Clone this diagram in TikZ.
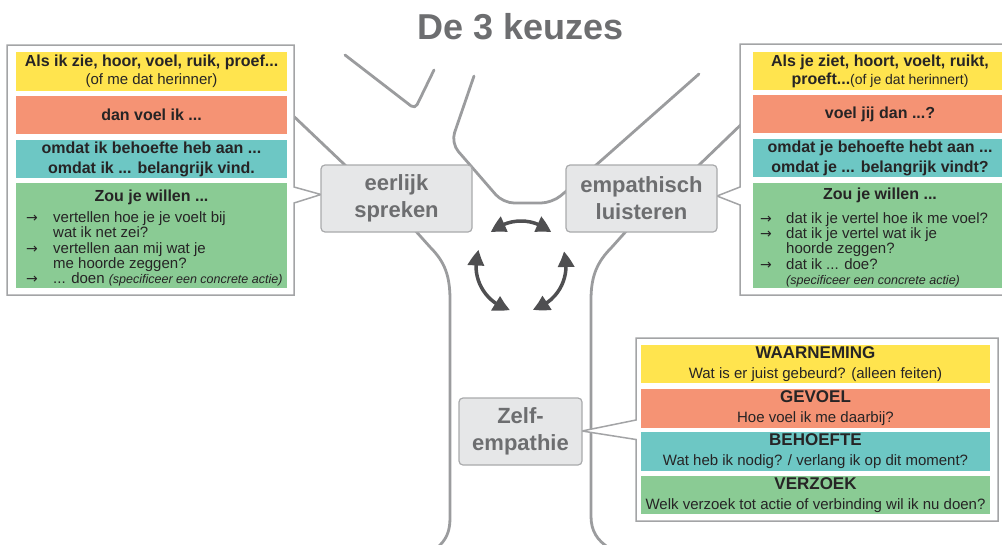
\documentclass[tikz,border=0pt]{standalone}
\usepackage{fontspec}
\setmainfont{Liberation Sans}
\newfontfamily\symfont{DejaVu Sans}
\usetikzlibrary{arrows.meta,bending}
\definecolor{treegray}{HTML}{9B9C9E}
\definecolor{boxline}{HTML}{A3A4A6}
\definecolor{nodefill}{HTML}{E6E7E8}
\definecolor{nodeline}{HTML}{A9AAAC}
\definecolor{nodetext}{HTML}{6D6E70}
\definecolor{arrowgray}{HTML}{4F4F51}
\definecolor{txt}{HTML}{262425}
\definecolor{cyellow}{HTML}{FFE44E}
\definecolor{corange}{HTML}{F59374}
\definecolor{cteal}{HTML}{6DC7C4}
\definecolor{cgreen}{HTML}{8ACB94}
\newcommand\myfs[2]{\fontsize{#1pt}{#2pt}\selectfont}
\newcommand\myarrow{{\symfont\myfs{14}{15}→}}
\begin{document}
\begin{tikzpicture}[x=1pt,y=-1pt,
  treeline/.style={draw=treegray,line width=2.8pt,line cap=round,line join=round},
  callbox/.style={draw=boxline,line width=1.5pt,fill=white,line join=miter},
  keuze/.style={fill=nodefill,draw=nodeline,line width=1.2pt,rounded corners=4pt,text=nodetext,font=\myfs{22}{27}\bfseries,align=center,inner sep=0pt},
  cbox/.style={inner sep=0pt,align=center,text=txt},
  cyclearrow/.style={draw=arrowgray,line width=3.5pt,{Triangle[bend,length=16pt,width=16pt]}-{Triangle[bend,length=16pt,width=16pt]}},
  listnode/.style={text=txt,font=\myfs{15}{15},anchor=base west,inner sep=0pt}
]
\useasboundingbox (0,0) rectangle (1002,544);
\clip (0,0) rectangle (1002,544);

% title
\node[text=nodetext,font=\myfs{36}{40}\bfseries] (title) at (521,27) {De 3 keuzes};

% tree
\draw[treeline,rounded corners=5pt] (345,55) -- (415,109) -- (434,70);
\draw[treeline,rounded corners=11pt] (474,76) -- (451,143) -- (503,203) -- (552,203) -- (570,188);
\draw[treeline] (285,108) -- (346,166);
\draw[treeline] (595,166) -- (699,74);
\draw[treeline] (697,167) -- (752,114);
\draw[treeline] (413,228) -- (430,247) .. controls (445,262) and (450,276) .. (450,300) -- (450,518) .. controls (450,532) and (446,540) .. (437,548);
\draw[treeline] (629,228) -- (612,247) .. controls (597,262) and (591,276) .. (591,300) -- (591,516) .. controls (591,531) and (597,540) .. (609,548);

% left callout
\draw[callbox] (7,45) -- (294,45) -- (294,187) -- (321,194.5) -- (294,203) -- (294,295) -- (7,295) -- cycle;
\node[cbox,fill=cyellow,minimum width=271,minimum height=39,font=\myfs{16}{18}] (ly) at (151.5,71.5)
  {\textbf{Als ik zie, hoor, voel, ruik, proef...}\\\myfs{15}{18}(of me dat herinner)};
\node[cbox,fill=corange,minimum width=271,minimum height=38,font=\myfs{16}{20}\bfseries] (lo) at (151.5,115) {dan voel ik ...};
\node[cbox,fill=cteal,minimum width=271,minimum height=38,font=\myfs{16}{20}\bfseries] (lt) at (151.5,159)
  {omdat ik behoefte heb aan ...\\omdat ik ... belangrijk vind.};
\node[cbox,fill=cgreen,minimum width=271,minimum height=105] (lg) at (151.5,235.5) {};
\node[cbox,font=\myfs{16}{20}\bfseries] (lgh) at (151.5,197) {Zou je willen ...};
\node[listnode] (lgl) at (26,222.5) {\begin{tabular}[t]{@{}p{27pt}@{}l@{}}
\myarrow & vertellen hoe je je voelt bij\\
 & wat ik net zei?\\
\myarrow & vertellen aan mij wat je\\
 & me hoorde zeggen?\\
\myarrow & ... doen {\itshape\myfs{12.5}{15}(specificeer een concrete actie)}
\end{tabular}};

% right callout
\draw[callbox] (740,44) -- (1015,44) -- (1015,295) -- (740,295) -- (740,205) -- (717,196) -- (740,187) -- cycle;
\node[cbox,fill=cyellow,minimum width=254,minimum height=38,font=\myfs{16}{18}] (ry) at (880,71)
  {\textbf{Als je ziet, hoort, voelt, ruikt,}\\\textbf{proeft...}\myfs{14}{18}(of je dat herinnert)};
\node[cbox,fill=corange,minimum width=254,minimum height=38,font=\myfs{16}{20}\bfseries] (ro) at (880,114) {voel jij dan ...?};
\node[cbox,fill=cteal,minimum width=254,minimum height=38,font=\myfs{16}{20}\bfseries] (rt) at (880,158)
  {omdat je behoefte hebt aan ...\\omdat je ... belangrijk vindt?};
\node[cbox,fill=cgreen,minimum width=254,minimum height=105] (rg) at (880,235.5) {};
\node[cbox,font=\myfs{16}{20}\bfseries] (rgh) at (880,195) {Zou je willen ...};
\node[listnode] (rgl) at (760,223) {\begin{tabular}[t]{@{}p{26pt}@{}l@{}}
\myarrow & dat ik je vertel hoe ik me voel?\\
\myarrow & dat ik je vertel wat ik je\\
 & hoorde zeggen?\\
\myarrow & dat ik ... doe?\\
 & {\itshape\myfs{12.5}{15}(specificeer een concrete actie)}
\end{tabular}};

% zelf-empathie callout
\draw[callbox] (636,338) -- (998,338) -- (998,521) -- (636,521) -- (636,439.5) -- (582,431) -- (636,420) -- cycle;
\node[cbox,fill=cyellow,minimum width=349,minimum height=38,font=\myfs{15}{20}] (zy) at (815.5,364)
  {{\myfs{17}{20}\bfseries WAARNEMING}\\Wat is er juist gebeurd? (alleen feiten)};
\node[cbox,fill=corange,minimum width=349,minimum height=39,font=\myfs{15}{20}] (zo) at (815.5,408.5)
  {{\myfs{17}{20}\bfseries GEVOEL}\\Hoe voel ik me daarbij?};
\node[cbox,fill=cteal,minimum width=349,minimum height=39,font=\myfs{15}{20}] (zt) at (815.5,451.5)
  {{\myfs{17}{20}\bfseries BEHOEFTE}\\Wat heb ik nodig? / verlang ik op dit moment?};
\node[cbox,fill=cgreen,minimum width=349,minimum height=38,font=\myfs{15}{20}] (zg) at (815.5,495)
  {{\myfs{17}{20}\bfseries VERZOEK}\\Welk verzoek tot actie of verbinding wil ik nu doen?};

% choice nodes
\node[keuze,minimum width=151,minimum height=67] (eer) at (396.5,198.5) {eerlijk\\spreken};
\node[keuze,minimum width=151,minimum height=67] (emp) at (641.5,198.5) {empathisch\\luisteren};
\node[keuze,minimum width=123,minimum height=67] (zelf) at (520.5,431.5) {Zelf-\\empathie};

% cycle arrows
\coordinate (cc) at (521,266);
\draw[cyclearrow] (cc) ++(228:45) arc[start angle=228,end angle=312,radius=45];
\draw[cyclearrow] (cc) ++(201:45) arc[start angle=201,end angle=104,radius=45];
\draw[cyclearrow] (cc) ++(-19:45) arc[start angle=-19,end angle=75,radius=45];
\end{tikzpicture}
\end{document}
